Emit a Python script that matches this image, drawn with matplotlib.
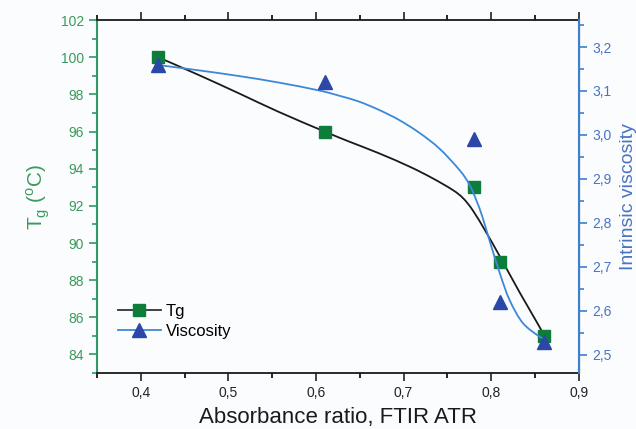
import matplotlib.pyplot as plt
from matplotlib.lines import Line2D
from matplotlib.path import Path
from matplotlib.patches import PathPatch
from matplotlib.ticker import FuncFormatter, MultipleLocator

plt.rcParams['font.family'] = ['Liberation Sans', 'DejaVu Sans']

# measured points
ratio = [0.42, 0.61, 0.78, 0.81, 0.86]
tg = [100, 96, 93, 89, 85]
viscosity = [3.16, 3.12, 2.99, 2.62, 2.53]

# fitted curves
tg_fit_x = [0.42, 0.466, 0.512, 0.558, 0.61, 0.638, 0.672, 0.707, 0.733, 0.756,
            0.768, 0.779, 0.794, 0.81, 0.833, 0.855, 0.86]
tg_fit_y = [100, 99.05, 98.06, 97.05, 96.0, 95.46, 94.83, 94.11, 93.49, 92.86,
            92.41, 91.76, 90.6, 89.27, 87.3, 85.5, 85.0]
visc_fit_x = [0.42, 0.466, 0.512, 0.558, 0.604, 0.627, 0.649, 0.672, 0.695, 0.718,
              0.741, 0.764, 0.775, 0.783, 0.790, 0.798, 0.81, 0.821, 0.836, 0.855, 0.86]
visc_fit_y = [3.159, 3.147, 3.134, 3.119, 3.101, 3.089, 3.076, 3.057, 3.034, 3.005,
              2.969, 2.920, 2.888, 2.852, 2.814, 2.761, 2.685, 2.625, 2.573, 2.542, 2.539]

green = '#0e7d3c'
green_axis = '#2f9a66'
green_text = '#3b9a5c'
blue_mark = '#2b47a8'
blue_line = '#3d88d8'
blue_axis = '#3c7fd0'
blue_text = '#4a73c4'


def smooth_curve(ax, xs, ys, **kw):
    # draw the read points as a smooth (Catmull-Rom style) bezier line
    pts = list(zip(xs, ys))
    verts = [pts[0]]
    codes = [Path.MOVETO]
    n = len(pts)
    for i in range(n - 1):
        p0 = pts[max(i - 1, 0)]
        p1 = pts[i]
        p2 = pts[i + 1]
        p3 = pts[min(i + 2, n - 1)]
        c1 = (p1[0] + (p2[0] - p0[0]) / 6, p1[1] + (p2[1] - p0[1]) / 6)
        c2 = (p2[0] - (p3[0] - p1[0]) / 6, p2[1] - (p3[1] - p1[1]) / 6)
        verts += [c1, c2, p2]
        codes += [Path.CURVE4] * 3
    ax.add_patch(PathPatch(Path(verts, codes), fill=False, **kw))


fig = plt.figure(figsize=(6.36, 4.29), dpi=100)
fig.patch.set_facecolor('#fbfcfd')
ax1 = fig.add_axes([0.1525, 0.1305, 0.7575, 0.8225])
ax1.set_facecolor('#fbfcfd')
ax2 = ax1.twinx()

smooth_curve(ax1, tg_fit_x, tg_fit_y, edgecolor='#1a1a1a', lw=1.3, zorder=2)
ax1.plot(ratio, tg, 's', color=green, ms=8.5, zorder=4)
smooth_curve(ax2, visc_fit_x, visc_fit_y, edgecolor=blue_line, lw=1.3, zorder=2)
ax2.plot(ratio, viscosity, '^', color=blue_mark, ms=10, zorder=4)

ax1.set_xlim(0.35, 0.9)
ax1.set_ylim(83, 102)
ax2.set_ylim(2.459, 3.261)

comma = FuncFormatter(lambda v, p: f'{v:.1f}'.replace('.', ','))
ax1.xaxis.set_major_locator(MultipleLocator(0.1))
ax1.xaxis.set_minor_locator(MultipleLocator(0.05))
ax1.xaxis.set_major_formatter(comma)
ax1.yaxis.set_major_locator(MultipleLocator(2))
ax1.yaxis.set_minor_locator(MultipleLocator(1))
ax2.yaxis.set_major_locator(MultipleLocator(0.1))
ax2.yaxis.set_minor_locator(MultipleLocator(0.05))
ax2.yaxis.set_major_formatter(comma)

ax1.tick_params(axis='x', which='major', direction='out', length=6, width=1.2,
                labelsize=10, colors='#222222')
ax1.tick_params(axis='x', which='minor', direction='out', length=3.5, width=1.2)
ax1.tick_params(axis='y', which='major', direction='out', length=6, width=1.2,
                labelsize=10, colors=green_axis, labelcolor=green_text)
ax1.tick_params(axis='y', which='minor', direction='out', length=3.5, width=1.2,
                colors=green_axis)
ax2.tick_params(axis='y', which='major', direction='out', length=6, width=1.2,
                labelsize=10, colors=blue_axis, labelcolor=blue_text)
ax2.tick_params(axis='y', which='minor', direction='out', length=3.5, width=1.2,
                colors=blue_axis)
ax1.xaxis.set_ticks_position('both')
ax1.tick_params(axis='x', which='both', top=True, labeltop=False)

for s in ['top', 'bottom']:
    ax1.spines[s].set_linewidth(1.3)
    ax1.spines[s].set_color('#1a1a1a')
ax1.spines['left'].set_color(green_axis)
ax1.spines['left'].set_linewidth(1.5)
ax2.spines['right'].set_color(blue_axis)
ax2.spines['right'].set_linewidth(1.5)
ax2.spines['left'].set_visible(False)
ax2.spines['top'].set_visible(False)
ax2.spines['bottom'].set_visible(False)

ax1.set_xlabel('Absorbance ratio, FTIR ATR', fontsize=16, color='#1a1a1a', labelpad=5)
ax1.set_ylabel(r'T$_\mathregular{g}$ ($^\mathregular{o}$C)', fontsize=15,
               color=green_text, labelpad=6)
ax2.set_ylabel('Intrinsic viscosity', fontsize=14, color=blue_text, labelpad=6)

handles = [
    Line2D([], [], color='#333333', lw=1.3, marker='s', ms=8.5,
           markerfacecolor=green, markeredgecolor=green),
    Line2D([], [], color=blue_line, lw=1.3, marker='^', ms=10,
           markerfacecolor=blue_mark, markeredgecolor=blue_mark),
]
ax2.legend(handles, ['Tg', 'Viscosity'], loc='lower left',
           bbox_to_anchor=(0.012, 0.055), frameon=False, fontsize=12,
           handlelength=2.6, handletextpad=0.3, labelspacing=0.3)

fig.savefig('out.png', dpi=100, facecolor=fig.get_facecolor())
